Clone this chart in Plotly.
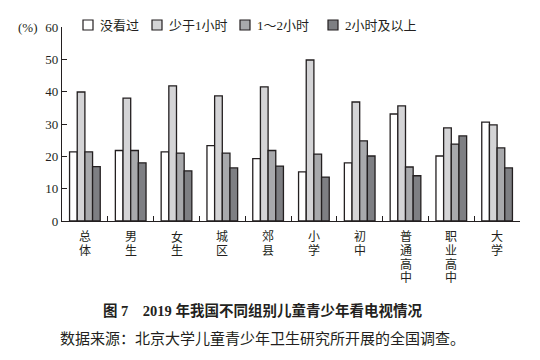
import plotly.graph_objects as go

categories = ["总体", "男生", "女生", "城区", "郊县", "小学", "初中", "普通高中", "职业高中", "大学"]
series_names = ["没看过", "少于1小时", "1～2小时", "2小时及以上"]
never = [21.4, 21.8, 21.4, 23.3, 19.3, 15.2, 18.0, 33.1, 20.1, 30.6]
less_1h = [39.9, 38.0, 41.8, 38.7, 41.5, 49.8, 36.8, 35.6, 28.8, 29.7]
h1_2 = [21.4, 21.8, 21.0, 21.0, 21.8, 20.7, 24.8, 16.7, 23.8, 22.6]
h2_plus = [16.8, 18.0, 15.5, 16.4, 17.0, 13.6, 20.1, 14.0, 26.3, 16.4]
y_ticks = [0, 10, 20, 30, 40, 50, 60]

series_values = [never, less_1h, h1_2, h2_plus]
colors = ["#ffffff", "#d4d4d6", "#a8a9ac", "#7e7f83"]
INK = "#231f20"
FONT = "Liberation Serif, Noto Sans CJK SC, serif"

W, H = 540, 360
ML, MR, MT, MB = 62, 20, 27, 139
PW, PH = W - ML - MR, H - MT - MB


def px(X):
    return (X - ML) / PW


def py(Y):
    return (H - MB - Y) / PH


fig = go.Figure()
for name, vals, col in zip(series_names, series_values, colors):
    fig.add_trace(go.Bar(
        x=categories, y=vals, name=name, showlegend=False,
        marker=dict(color=col, line=dict(color=INK, width=1.3)),
    ))

# vertical category labels (one character per line)
for cat in categories:
    for i, ch in enumerate(cat):
        fig.add_annotation(
            x=cat, y=0, xref="x", yref="y", text=ch, showarrow=False,
            yanchor="middle", xanchor="center", yshift=-(16 + 13.5 * i),
            font=dict(size=12, color=INK, family=FONT),
        )

# manual legend
legend_x = [83, 152, 240, 328]
for name, col, lx in zip(series_names, colors, legend_x):
    fig.add_shape(type="rect", xref="paper", yref="paper",
                  x0=px(lx), x1=px(lx + 10), y0=py(30), y1=py(20),
                  fillcolor=col, line=dict(color=INK, width=1.2))
    fig.add_annotation(x=px(lx + 15), y=py(25), xref="paper", yref="paper",
                       text=name, showarrow=False, xanchor="left", yanchor="middle",
                       font=dict(size=13, color=INK, family=FONT))

fig.add_annotation(x=px(40), y=1.0, xref="paper", yref="paper", text="(%)",
                   showarrow=False, xanchor="right", yanchor="middle",
                   font=dict(size=13, color=INK, family=FONT))

fig.add_annotation(x=px(262), y=py(310), xref="paper", yref="paper",
                   text="<b>图 7　2019 年我国不同组别儿童青少年看电视情况</b>",
                   showarrow=False, xanchor="center", yanchor="middle",
                   font=dict(size=14.5, color=INK, family=FONT))
fig.add_annotation(x=px(262), y=py(338), xref="paper", yref="paper",
                   text="数据来源：北京大学儿童青少年卫生研究所开展的全国调查。",
                   showarrow=False, xanchor="center", yanchor="middle",
                   font=dict(size=15, color=INK, family=FONT))

fig.update_layout(
    width=W, height=H,
    margin=dict(l=ML, r=MR, t=MT, b=MB, autoexpand=False),
    paper_bgcolor="white", plot_bgcolor="white",
    barmode="group", bargap=0.33, bargroupgap=0,
    font=dict(family=FONT, size=13, color=INK),
    showlegend=False,
    xaxis=dict(showline=True, linecolor=INK, linewidth=1.3,
               ticks="inside", ticklen=5, tickcolor=INK, tickwidth=1,
               tickson="boundaries", showticklabels=False, showgrid=False,
               zeroline=False),
    yaxis=dict(range=[0, 60], tickvals=y_ticks, showline=True, linecolor=INK,
               linewidth=1.3, ticks="inside", ticklen=5, tickcolor=INK,
               tickwidth=1, showgrid=False, zeroline=False,
               tickfont=dict(size=13)),
)

fig.write_html("out.html", config={"displayModeBar": False},
               post_script="document.body.style.margin='0';document.body.style.padding='0';")
